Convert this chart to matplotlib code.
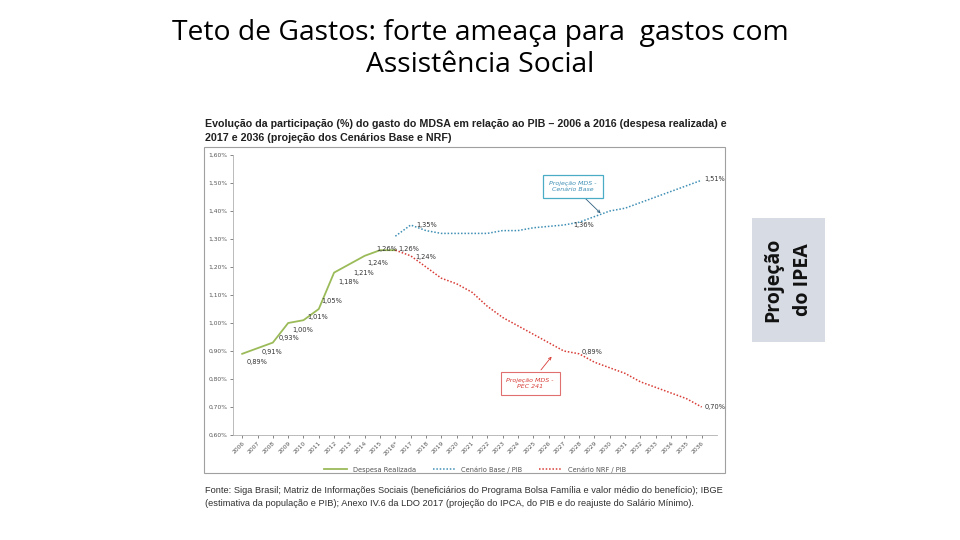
import matplotlib.pyplot as plt
from matplotlib.patches import Rectangle

years = list(range(2006, 2037))
year_labels = [str(y) for y in years]
year_labels[10] = "2016*"

real_years = list(range(2006, 2017))
despesa = [0.89, 0.91, 0.93, 1.00, 1.01, 1.05, 1.18, 1.21, 1.24, 1.26, 1.26]

proj_years = list(range(2016, 2037))
base = [1.31, 1.35, 1.33, 1.32, 1.32, 1.32, 1.32, 1.33, 1.33, 1.34, 1.345,
        1.35, 1.36, 1.38, 1.40, 1.41, 1.43, 1.45, 1.47, 1.49, 1.51]
nrf = [1.26, 1.24, 1.20, 1.16, 1.14, 1.11, 1.06, 1.02, 0.99, 0.96, 0.93,
       0.90, 0.89, 0.86, 0.84, 0.82, 0.79, 0.77, 0.75, 0.73, 0.70]

yticks = [0.6, 0.7, 0.8, 0.9, 1.0, 1.1, 1.2, 1.3, 1.4, 1.5, 1.6]

green = "#9bbb59"
blue = "#3f8fb5"
red = "#d83c36"

def pct(v):
    return f"{v:.2f}%".replace(".", ",")

fig = plt.figure(figsize=(9.6, 5.4), dpi=100)
fig.patch.set_facecolor("white")

fig.text(0.5, 1-49/540, "Teto de Gastos: forte ameaça para  gastos com\nAssistência Social",
         ha="center", va="center", fontsize=20.3, family="Open Sans", linespacing=1.22)

# chart frame
fig.patches.append(Rectangle((204/960, 1-473/540), 521/960, 326/540, transform=fig.transFigure,
                             fill=False, ec="#a0a0a0", lw=0.8))
fig.text(205/960, 1-131/540,
         "Evolução da participação (%) do gasto do MDSA em relação ao PIB – 2006 a 2016 (despesa realizada) e\n"
         "2017 e 2036 (projeção dos Cenários Base e NRF)",
         ha="left", va="center", fontsize=7.7, fontweight="bold", family="Liberation Sans",
         linespacing=1.6, color="#202020")
fig.text(205/960, 1-497/540,
         "Fonte: Siga Brasil; Matriz de Informações Sociais (beneficiários do Programa Bolsa Família e valor médio do benefício); IBGE\n"
         "(estimativa da população e PIB); Anexo IV.6 da LDO 2017 (projeção do IPCA, do PIB e do reajuste do Salário Mínimo).",
         ha="left", va="center", fontsize=6.7, family="Liberation Sans", linespacing=1.5, color="#303030")

ax = fig.add_axes([233/960, 105/540, (717-233)/960, 280/540])
ax.plot(real_years, despesa, color=green, lw=1.3, label="Despesa Realizada")
ax.plot(proj_years, base, color=blue, lw=1.1, ls=(0, (1, 1.2)), label="Cenário Base / PIB")
ax.plot(proj_years, nrf, color=red, lw=1.1, ls=(0, (1, 1.2)), label="Cenário NRF / PIB")

ax.set_xlim(2005.4, 2037.0)
ax.set_ylim(0.6, 1.6)
ax.set_yticks(yticks)
ax.set_yticklabels([f"{v:.2f}%".replace(".", ",") for v in yticks])
ax.set_xticks(years)
ax.set_xticklabels(year_labels, rotation=45, ha="right", rotation_mode="anchor")
ax.tick_params(labelsize=4.3, colors="#555555", length=2, width=0.5, pad=2)
for s in ["top", "right"]:
    ax.spines[s].set_visible(False)
for s in ["left", "bottom"]:
    ax.spines[s].set_color("#b0b0b0")
    ax.spines[s].set_linewidth(0.6)

lab = dict(fontsize=4.8, color="#333333", family="DejaVu Sans")
green_off = [(3, -6), (3, -3), (4, 3), (3, -5), (3, 2), (2, 6), (3, -7), (3, -6), (2, -5), (-3, 1), (2, 1)]
for x, v, off in zip(real_years, despesa, green_off):
    ax.annotate(pct(v), (x, v), xytext=off, textcoords="offset points", ha="left", va="center", **lab)
ax.annotate(pct(base[1]), (proj_years[1], base[1]), xytext=(4, 0), textcoords="offset points", va="center", **lab)
ax.annotate(pct(base[12]), (proj_years[12], base[12]), xytext=(-4, -2), textcoords="offset points", va="center", **lab)
ax.annotate(pct(base[-1]), (proj_years[-1], base[-1]), xytext=(2, 1), textcoords="offset points", va="center", **lab)
ax.annotate(pct(nrf[1]), (proj_years[1], nrf[1]), xytext=(3, -1), textcoords="offset points", va="center", **lab)
ax.annotate(pct(nrf[12]), (proj_years[12], nrf[12]), xytext=(2, 1), textcoords="offset points", va="center", **lab)
ax.annotate(pct(nrf[-1]), (proj_years[-1], nrf[-1]), xytext=(2, 0), textcoords="offset points", va="center", **lab)

# callout boxes
ax.annotate("Projeção MDS -\nCenário Base", xy=(2029.4, 1.392), xytext=(2027.6, 1.4875),
            ha="center", va="center", fontsize=4.5, style="italic", color=blue,
            bbox=dict(boxstyle="square,pad=1.0", fc="white", ec="#4bacc6", lw=0.9),
            arrowprops=dict(arrowstyle="->", color="#2f5f7f", lw=0.6, shrinkA=0, shrinkB=0))
ax.annotate("Projeção MDS -\nPEC 241", xy=(2026.2, 0.88), xytext=(2024.8, 0.784),
            ha="center", va="center", fontsize=4.5, style="italic", color=red,
            bbox=dict(boxstyle="square,pad=0.9", fc="white", ec="#e07070", lw=0.8),
            arrowprops=dict(arrowstyle="->", color=red, lw=0.6, shrinkA=2, shrinkB=0))

ax.legend(loc="upper center", bbox_to_anchor=(0.5, -0.09), ncol=3, frameon=False,
          fontsize=4.8, handlelength=3.5, columnspacing=2.5, labelcolor="#555555")

# right-side label
fig.patches.append(Rectangle((752/960, 1-342/540), 73/960, 124/540, transform=fig.transFigure,
                             fc="#d7dbe4", ec="none"))
fig.text(788/960, 1-280/540, "Projeção\ndo IPEA", rotation=90, ha="center", va="center",
         fontsize=14, fontweight="bold", family="Open Sans", linespacing=1.6, color="#111111")

fig.savefig("out.png", dpi=100)
